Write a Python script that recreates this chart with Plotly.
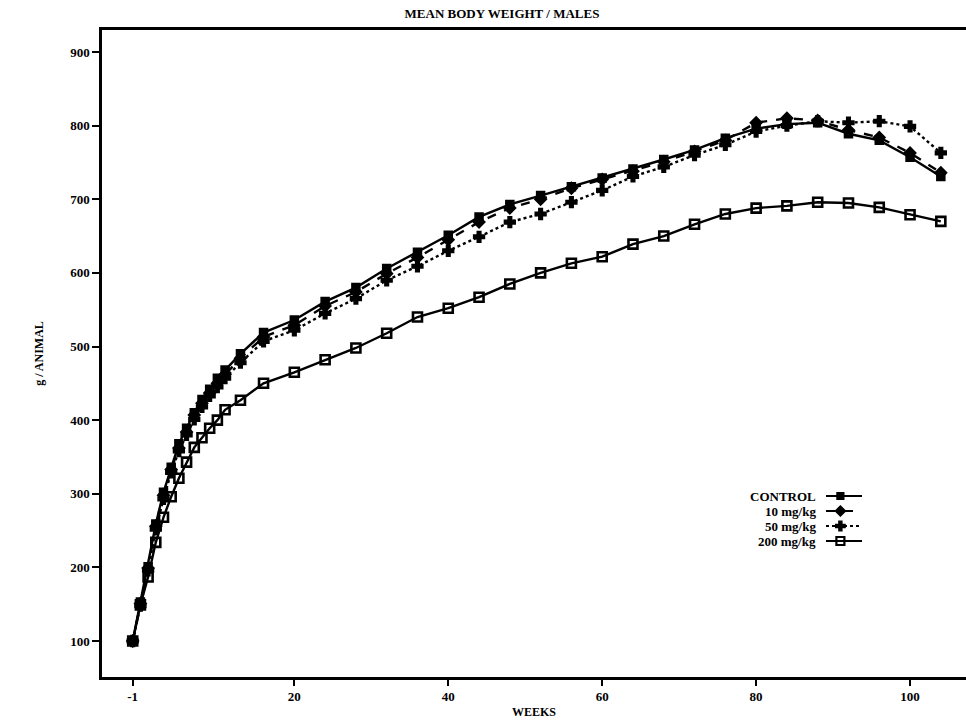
import plotly.graph_objects as go

# Study weeks at which body weight was recorded
weeks = [-1, 0, 1, 2, 3, 4, 5, 6, 7, 8, 9, 10, 11, 13, 16, 20, 24, 28, 32, 36,
         40, 44, 48, 52, 56, 60, 64, 68, 72, 76, 80, 84, 88, 92, 96, 100, 104]

# Mean body weight (g / animal) per dose group
control = [100, 153, 201, 259, 302, 336, 368, 389, 410, 428, 442, 457, 468, 490, 519, 536,
           561, 580, 606, 628, 651, 676, 693, 705, 717, 729, 741, 754, 767, 783, 796, 802,
           804, 789, 780, 757, 731]
dose_10 = [100, 151, 199, 256, 298, 333, 362, 384, 407, 423, 437, 450, 462, 484, 513, 529,
           555, 574, 599, 621, 645, 669, 688, 700, 715, 727, 738, 751, 765, 780, 804, 810,
           807, 794, 784, 763, 736]
dose_50 = [100, 148, 196, 252, 293, 329, 358, 380, 401, 418, 433, 445, 457, 478, 507, 522,
           545, 565, 590, 609, 630, 649, 669, 680, 696, 712, 731, 744, 760, 774, 792, 800,
           806, 804, 806, 799, 763]
dose_200 = [100, 149, 187, 234, 268, 296, 321, 343, 363, 376, 389, 400, 414, 427, 450, 465,
            482, 498, 518, 540, 552, 567, 585, 600, 613, 622, 639, 650, 666, 680, 688, 691,
            696, 695, 689, 679, 670]

group_names = ["CONTROL", "10 mg/kg", "50 mg/kg", "200 mg/kg"]
group_values = [control, dose_10, dose_50, dose_200]
group_dash = ["solid", "dash", "dot", "solid"]
group_symbol = ["square", "diamond", "cross", "square-open"]
group_size = [8, 9, 9, 9]

y_ticks = [100, 200, 300, 400, 500, 600, 700, 800, 900]
x_tickvals = [-1, 20, 40, 60, 80, 100]
x_ticktext = ["-1", "20", "40", "60", "80", "100"]

INK = "black"
FONT = "Liberation Serif"

W, H = 966, 725
M_L, M_R, M_T, M_B = 102, 0, 30, 48
plot_w = W - M_L - M_R
plot_h = H - M_T - M_B

fig = go.Figure()

for name, vals, dash, sym, size in zip(group_names, group_values, group_dash,
                                       group_symbol, group_size):
    fig.add_trace(go.Scatter(
        x=weeks, y=vals, mode="lines+markers", name=name, showlegend=False,
        line=dict(color=INK, width=2.4, dash=dash),
        marker=dict(symbol=sym, size=size, color=INK,
                    line=dict(color=INK, width=2.6 if sym == "square-open" else 1.5)),
        xaxis="x", yaxis="y",
    ))

# Key: group labels on the left, line/marker samples on the right
key_top_px, key_step_px = 496, 15          # row centres in page pixels
key_x0_px, key_x1_px = 826, 862            # sample line extent
key_text_px = 818                          # right edge of labels
rows = [3, 2, 1, 0]                        # CONTROL on top

dom_top_px = key_top_px - 12
dom_bot_px = key_top_px + 3 * key_step_px + 12
y2_dom = [(H - M_B - dom_bot_px) / plot_h, (H - M_B - dom_top_px) / plot_h]
# value 0 sits at the bottom row, value 3 at the top row
y2_range = [-(12 / key_step_px), 3 + 12 / key_step_px]
x2_dom = [(key_x0_px - M_L) / plot_w, (key_x1_px - M_L) / plot_w]

for row, name, dash, sym, size in zip(rows, group_names, group_dash,
                                      group_symbol, group_size):
    fig.add_trace(go.Scatter(
        x=[0, 1], y=[row, row], mode="lines", showlegend=False,
        line=dict(color=INK, width=2.2, dash=dash),
        xaxis="x2", yaxis="y2", hoverinfo="skip",
    ))
    fig.add_trace(go.Scatter(
        x=[0.4], y=[row], mode="markers", showlegend=False,
        marker=dict(symbol=sym, size=size - 1, color=INK,
                    line=dict(color=INK, width=2.2 if sym == "square-open" else 1.2)),
        xaxis="x2", yaxis="y2", hoverinfo="skip",
    ))
    fig.add_annotation(
        x=(key_text_px - M_L) / plot_w, y=row, xref="paper", yref="y2",
        text=f"<b>{name}</b>", showarrow=False, xanchor="right", yanchor="middle",
        font=dict(family=FONT, size=13, color=INK),
    )

fig.update_layout(
    width=W, height=H,
    margin=dict(l=M_L, r=M_R, t=M_T, b=M_B),
    paper_bgcolor="white", plot_bgcolor="white",
    font=dict(family=FONT, color=INK, size=12),
    title=dict(text="<b>MEAN BODY WEIGHT / MALES</b>", x=502 / W, xanchor="center",
               y=1 - 13 / H, yanchor="middle", yref="container",
               font=dict(family=FONT, size=13, color=INK)),
    xaxis=dict(
        range=[-4.99, 107.27], tickvals=x_tickvals,
        ticktext=[f"<b>{t}</b>" for t in x_ticktext],
        showgrid=False, zeroline=False, showline=True, linecolor=INK, linewidth=2.5,
        mirror=True, ticks="outside", ticklen=6, tickwidth=2, tickcolor=INK,
        tickfont=dict(family=FONT, size=13, color=INK),
        title=dict(text="<b>WEEKS</b>", standoff=5,
                   font=dict(family=FONT, size=12, color=INK)),
    ),
    yaxis=dict(
        range=[51.1, 929.9], tickvals=y_ticks,
        ticktext=[f"<b>{v}</b>" for v in y_ticks],
        showgrid=False, zeroline=False, showline=True, linecolor=INK, linewidth=2.5,
        mirror=False, ticks="outside", ticklen=7, tickwidth=2, tickcolor=INK,
        tickfont=dict(family=FONT, size=13, color=INK),
        title=dict(text="<b>g / ANIMAL</b>", standoff=24,
                   font=dict(family=FONT, size=12, color=INK)),
    ),
    xaxis2=dict(domain=x2_dom, range=[0, 1], visible=False,
                anchor="y2", fixedrange=True),
    yaxis2=dict(domain=y2_dom, range=y2_range, visible=False,
                anchor="x2", fixedrange=True),
)

fig.write_html("out.html")
